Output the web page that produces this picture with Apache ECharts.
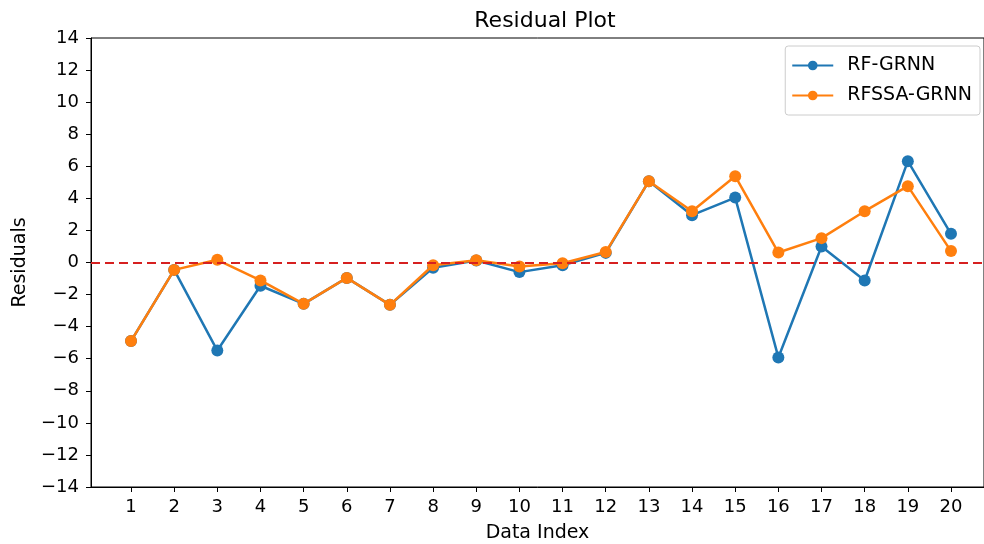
<!DOCTYPE html>
<html><head><meta charset="utf-8">
<script src="https://cdn.jsdelivr.net/npm/echarts@6/dist/echarts.min.js"></script>
<style>html,body{margin:0;padding:0;background:#fff}#c{width:984px;height:544px}</style>
</head><body><div id="c"></div>
<script>
const indices = [1,2,3,4,5,6,7,8,9,10,11,12,13,14,15,16,17,18,19,20];
const rfGrnn = [-4.9,-0.46,-5.49,-1.45,-2.58,-0.96,-2.64,-0.33,0.12,-0.6,-0.17,0.6,5.07,2.95,4.05,-5.92,1.0,-1.12,6.32,1.79];
const rfssaGrnn = [-4.9,-0.46,0.17,-1.12,-2.58,-0.96,-2.64,-0.17,0.14,-0.25,-0.05,0.65,5.07,3.2,5.38,0.62,1.52,3.2,4.76,0.71];
const yTicks = [-14,-12,-10,-8,-6,-4,-2,0,2,4,6,8,10,12,14];

const font = 'DejaVu Sans';
const chart = echarts.init(document.getElementById('c'), null, {renderer:'canvas'});
const pair = arr => arr.map((v,i)=>[indices[i], v]);
chart.setOption({
  animation:false,
  textStyle:{fontFamily:font},
  title:{text:'Residual Plot', left:540, top:5, textAlign:'center',
    textStyle:{fontFamily:font, fontSize:22, fontWeight:'normal', color:'#000'}},
  legend:{
    right:4, top:46, orient:'vertical', itemWidth:41, itemHeight:12, itemGap:11,
    padding:[10,8,10,6], borderColor:'#ccc', borderWidth:1, borderRadius:3,
    textStyle:{fontFamily:font, fontSize:19, color:'#000', padding:[0,0,0,9]},
    data:['RF-GRNN','RFSSA-GRNN']
  },
  grid:{left:91, top:38, right:0, bottom:57, show:true, borderColor:'#000', borderWidth:1,
    containLabel:false, outerBoundsMode:'none'},
  xAxis:{
    type:'value', min:0.073, max:20.765,
    name:'Data Index', nameLocation:'middle', nameGap:37,
    nameTextStyle:{fontFamily:font, fontSize:19, color:'#000'},
    axisLine:{show:true, onZero:false, lineStyle:{color:'#000'}},
    axisTick:{show:true, length:5, lineStyle:{color:'#000'}, customValues:indices},
    axisLabel:{fontFamily:font, fontSize:18, color:'#000', margin:11, customValues:indices},
    splitLine:{show:false}
  },
  yAxis:{
    type:'value', min:-14, max:14, interval:2,
    name:'Residuals', nameLocation:'middle', nameGap:61, nameRotate:90,
    nameTextStyle:{fontFamily:font, fontSize:19, color:'#000'},
    axisLine:{show:true, lineStyle:{color:'#000'}},
    axisTick:{show:true, length:5, lineStyle:{color:'#000'}},
    axisLabel:{fontFamily:font, fontSize:18, color:'#000', margin:12,
      formatter:v=>String(v).replace('-','\u2212')},
    splitLine:{show:false}
  },
  series:[
    {name:'RF-GRNN', type:'line', data:pair(rfGrnn), symbol:'circle', symbolSize:12,
     itemStyle:{color:'#1f77b4'}, lineStyle:{color:'#1f77b4', width:2.5}, z:2,
     markLine:{silent:true, symbol:'none', label:{show:false},
       lineStyle:{color:'#d62020', type:[9,5], width:2.2}, data:[{yAxis:0}]}},
    {name:'RFSSA-GRNN', type:'line', data:pair(rfssaGrnn), symbol:'circle', symbolSize:12,
     itemStyle:{color:'#ff7f0e'}, lineStyle:{color:'#ff7f0e', width:2.5}, z:3}
  ]
});
</script></body></html>
